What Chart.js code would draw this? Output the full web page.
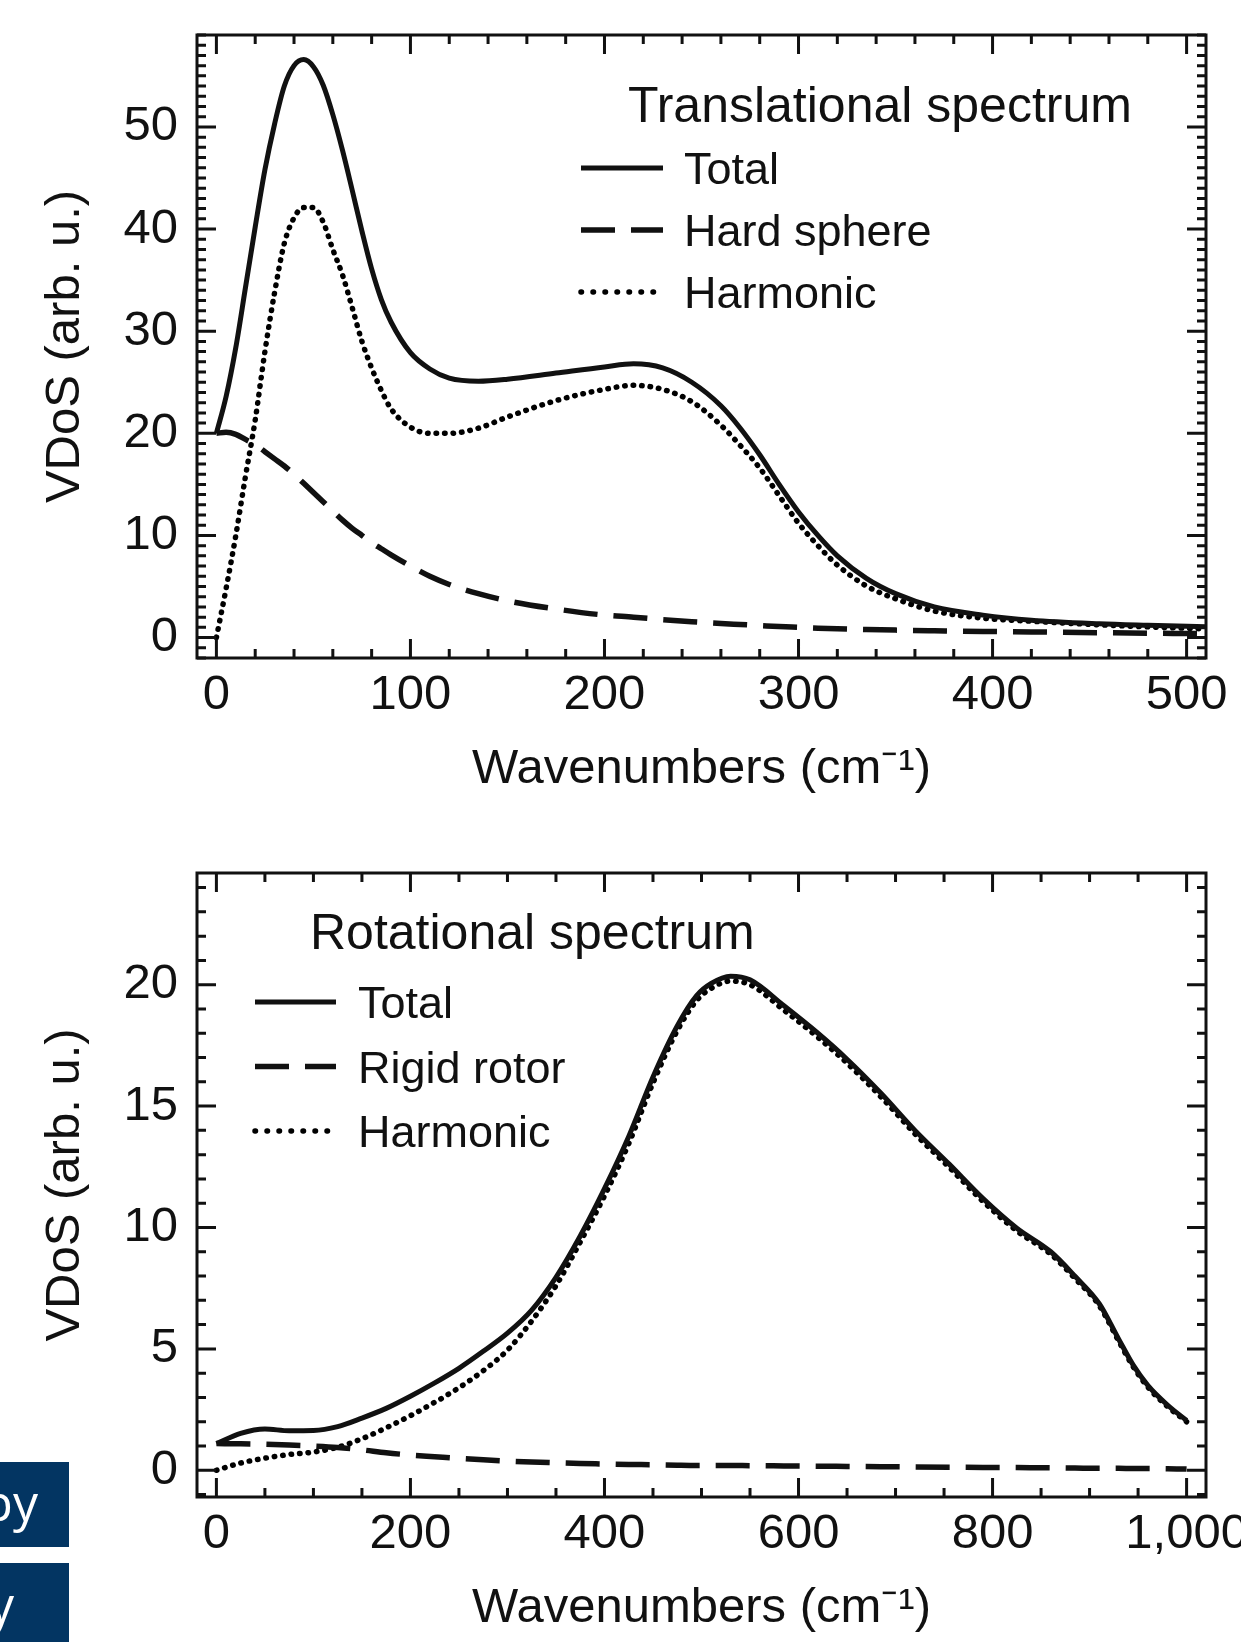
<!DOCTYPE html>
<html>
<head>
<meta charset="utf-8">
<title>VDoS spectra</title>
<script src="https://cdn.jsdelivr.net/npm/chart.js@4.4.0/dist/chart.umd.min.js"></script>
<style>
  html, body { margin: 0; padding: 0; background: #fff; }
  body { position: relative; width: 1241px; height: 1642px; overflow: hidden; }
  canvas { position: absolute; left: 0; }
  #transChart { top: 0; }
  #rotChart { top: 820px; }
  .tab { position: absolute; left: 0; width: 69px; background: #033562; overflow: hidden; }
  .tab span { position: absolute; color: #fff; font: 50px/50px 'Open Sans', sans-serif; white-space: nowrap; }
</style>
</head>
<body>
<canvas id="transChart" width="1241" height="820"></canvas>
<canvas id="rotChart" width="1241" height="822"></canvas>
<div class="tab" style="top:1462px;height:85px"><span style="right:31px;top:15px">py</span></div>
<div class="tab" style="top:1563px;height:79px"><span style="right:55px;top:16px">y</span></div>
<script>
// Translational spectrum (top panel)
const transWavenumber = [0, 5, 10, 15, 20, 25, 30, 35, 40, 45, 50, 55, 60, 65, 70, 75, 80, 85, 90, 100,
  110, 120, 135, 150, 175, 200, 215, 230, 245, 260, 270, 280, 290, 300, 310, 320, 335, 350, 370, 395,
  420, 455, 480, 510];
const transTotal = [20.0, 23.6, 28.4, 34.3, 40.2, 45.8, 50.3, 54.0, 56.0, 56.6, 55.9, 54.1, 51.2, 47.7, 43.8, 39.8, 36.1, 33.1, 30.9, 27.9,
  26.3, 25.4, 25.1, 25.3, 25.9, 26.5, 26.8, 26.4, 25.0, 22.7, 20.5, 17.9, 15.0, 12.3, 10.0, 8.0, 5.8, 4.3, 3.0, 2.2,
  1.7, 1.35, 1.2, 1.05];
const transHardSphere = [20.0, 20.1, 19.9, 19.4, 18.9, 18.2, 17.5, 16.8, 16.0, 15.1, 14.2, 13.3, 12.4, 11.5, 10.7, 10.0, 9.3, 8.7, 8.1, 7.0,
  6.0, 5.2, 4.3, 3.6, 2.8, 2.2, 2.0, 1.75, 1.55, 1.38, 1.28, 1.18, 1.08, 1.0, 0.92, 0.86, 0.79, 0.73, 0.67, 0.6,
  0.55, 0.48, 0.43, 0.38];
const transHarmonic = [0, 4.8, 10.0, 15.8, 21.3, 28.0, 33.8, 38.6, 41.1, 42.1, 42.1, 40.7, 38.0, 35.5, 32.3, 29.0, 26.4, 24.2, 22.4, 20.6,
  20.0, 20.0, 20.5, 21.6, 23.2, 24.3, 24.7, 24.3, 23.1, 20.8, 18.8, 16.6, 13.9, 11.2, 9.0, 7.1, 5.05, 3.8, 2.6, 1.9,
  1.6, 1.25, 1.05, 0.85];
const transTicksX = [0, 100, 200, 300, 400, 500];
const transTicksY = [0, 10, 20, 30, 40, 50];

// Rotational spectrum (bottom panel)
const rotWavenumber = [0, 25, 50, 75, 100, 125, 150, 175, 200, 225, 250, 275, 300, 325, 350, 375, 400, 425, 450, 475,
  495, 510, 530, 550, 585, 620, 650, 685, 720, 755, 790, 825, 860, 885, 910, 930, 945, 960, 980, 1000];
const rotTotal = [1.1, 1.52, 1.7, 1.63, 1.64, 1.8, 2.15, 2.55, 3.05, 3.6, 4.2, 4.9, 5.65, 6.6, 7.95, 9.65, 11.6, 13.75, 16.2, 18.3,
  19.55, 20.05, 20.35, 20.2, 19.13, 18.0, 16.93, 15.53, 14.0, 12.62, 11.2, 9.97, 9.0, 7.99, 6.86, 5.4, 4.33, 3.5, 2.7, 2.05];
const rotRigidRotor = [1.1, 1.09, 1.07, 1.04, 1.0, 0.94, 0.84, 0.72, 0.63, 0.56, 0.49, 0.43, 0.38, 0.34, 0.31, 0.28, 0.26, 0.24, 0.23, 0.21,
  0.2, 0.2, 0.2, 0.19, 0.18, 0.17, 0.16, 0.15, 0.14, 0.13, 0.12, 0.11, 0.1, 0.09, 0.08, 0.08, 0.07, 0.07, 0.06, 0.05];
const rotHarmonic = [0, 0.3, 0.5, 0.65, 0.75, 0.95, 1.3, 1.75, 2.25, 2.8, 3.4, 4.1, 4.95, 6.15, 7.6, 9.4, 11.3, 13.45, 15.95, 18.1,
  19.35, 19.85, 20.15, 20.0, 18.95, 17.83, 16.77, 15.38, 13.86, 12.49, 11.08, 9.86, 8.9, 7.9, 6.78, 5.32, 4.26, 3.43, 2.64, 2.0];
const rotTicksX = [0, 200, 400, 600, 800, 1000];
const rotTicksY = [0, 5, 10, 15, 20];

const fontFamily = "'Liberation Sans', Arial, Helvetica, sans-serif";
Chart.defaults.font.family = fontFamily;
Chart.defaults.color = '#111';

function pts(xs, ys) {
  return xs.map((x, i) => ({ x: x, y: ys[i] }));
}

function lineSets(xs, total, second, secondLabel, harmonic) {
  return [
    { label: 'Total', data: pts(xs, total), borderColor: '#111', borderWidth: 5,
      pointRadius: 0, cubicInterpolationMode: 'monotone' },
    { label: secondLabel, data: pts(xs, second), borderColor: '#111', borderWidth: 5.5,
      borderDash: [34, 16], pointRadius: 0, cubicInterpolationMode: 'monotone' },
    { label: 'Harmonic', data: pts(xs, harmonic), borderColor: '#000', borderWidth: 5.5,
      borderDash: [0.5, 8], borderCapStyle: 'round', legendDash: [0.5, 11.5],
      pointRadius: 0, cubicInterpolationMode: 'monotone' }
  ];
}

// frame round the plot with inward ticks on all four sides
function frameTicks(xMinor, yMinor) {
  return {
    id: 'frameTicks',
    afterDatasetsDraw(chart) {
      const { ctx, chartArea: a, scales: { x, y } } = chart;
      const majorX = x.ticks.map(t => t.value);
      const majorY = y.ticks.map(t => t.value);
      ctx.save();
      ctx.strokeStyle = '#111';
      ctx.lineWidth = 3;
      ctx.beginPath();
      for (let i = Math.ceil(x.min / xMinor); i * xMinor <= x.max; i++) {
        const v = i * xMinor;
        const len = majorX.some(m => Math.abs(m - v) < 1e-6) ? 19 : 9;
        const px = x.getPixelForValue(v);
        ctx.moveTo(px, a.bottom); ctx.lineTo(px, a.bottom - len);
        ctx.moveTo(px, a.top); ctx.lineTo(px, a.top + len);
      }
      for (let i = Math.ceil(y.min / yMinor); i * yMinor <= y.max; i++) {
        const v = i * yMinor;
        const len = majorY.some(m => Math.abs(m - v) < 1e-6) ? 19 : 9;
        const py = y.getPixelForValue(v);
        ctx.moveTo(a.left, py); ctx.lineTo(a.left + len, py);
        ctx.moveTo(a.right, py); ctx.lineTo(a.right - len, py);
      }
      ctx.stroke();
      ctx.strokeRect(a.left, a.top, a.right - a.left, a.bottom - a.top);
      ctx.restore();
    }
  };
}

// title + legend block inside the plot
function spectrumLegend(cfg) {
  return {
    id: 'spectrumLegend',
    afterDraw(chart) {
      const { ctx, chartArea: a } = chart;
      ctx.save();
      ctx.fillStyle = '#111';
      ctx.textBaseline = 'alphabetic';
      ctx.font = '50px ' + fontFamily;
      ctx.fillText(cfg.title, a.left + cfg.titleX, a.top + cfg.titleY);
      ctx.font = '45px ' + fontFamily;
      chart.data.datasets.forEach((ds, i) => {
        const yMid = a.top + cfg.rowY + i * cfg.rowGap;
        ctx.beginPath();
        ctx.setLineDash(ds.legendDash || ds.borderDash || []);
        ctx.lineCap = ds.borderCapStyle || 'butt';
        ctx.lineWidth = ds.borderWidth;
        ctx.strokeStyle = ds.borderColor;
        ctx.moveTo(a.left + cfg.lineStart, yMid);
        ctx.lineTo(a.left + cfg.lineEnd, yMid);
        ctx.stroke();
        ctx.setLineDash([]);
        ctx.fillText(ds.label, a.left + cfg.textX, yMid + 16);
      });
      ctx.restore();
    }
  };
}

function spectrumOptions(c) {
  return {
    responsive: false,
    animation: false,
    devicePixelRatio: 1,
    layout: { padding: { top: c.padTop, right: 35, left: 0, bottom: 0 } },
    plugins: { legend: { display: false }, tooltip: { enabled: false } },
    scales: {
      x: {
        type: 'linear', min: c.xMin, max: c.xMax,
        grid: { display: false, drawTicks: false },
        border: { display: false },
        afterBuildTicks: s => { s.ticks = c.xTicks.map(v => ({ value: v })); },
        ticks: {
          autoSkip: false, maxRotation: 0, padding: 8, font: { size: 49 },
          callback: v => v.toLocaleString('en-US')
        },
        title: { display: true, text: 'Wavenumbers (cm\u207B\u00B9)', font: { size: 49 },
          padding: { top: 0, bottom: c.xTitlePad } },
        afterFit: s => { s.height = c.xAxisHeight; s.paddingLeft = 0; s.paddingRight = 0; }
      },
      y: {
        type: 'linear', min: c.yMin, max: c.yMax,
        grid: { display: false, drawTicks: false },
        border: { display: false },
        afterBuildTicks: s => { s.ticks = c.yTicks.map(v => ({ value: v })); },
        ticks: { autoSkip: false, padding: 19, font: { size: 49 } },
        title: { display: true, text: 'VDoS (arb. u.)', font: { size: 49 }, padding: { top: 36, bottom: 0 } },
        afterFit: s => { s.width = 197; s.paddingTop = 0; s.paddingBottom = 0; }
      }
    }
  };
}

new Chart(document.getElementById('transChart'), {
  type: 'line',
  data: { datasets: lineSets(transWavenumber, transTotal, transHardSphere, 'Hard sphere', transHarmonic) },
  options: spectrumOptions({ padTop: 35, xMin: -10, xMax: 510, xTicks: transTicksX, yMin: -2, yMax: 59, yTicks: transTicksY,
    xAxisHeight: 162, xTitlePad: 21 }),
  plugins: [
    frameTicks(20, 1),
    spectrumLegend({ title: 'Translational spectrum', titleX: 431, titleY: 87,
      rowY: 133, rowGap: 62, lineStart: 384, lineEnd: 466, textX: 487 })
  ]
});

new Chart(document.getElementById('rotChart'), {
  type: 'line',
  data: { datasets: lineSets(rotWavenumber, rotTotal, rotRigidRotor, 'Rigid rotor', rotHarmonic) },
  options: spectrumOptions({ padTop: 53, xMin: -20, xMax: 1020, xTicks: rotTicksX, yMin: -1.1, yMax: 24.6, yTicks: rotTicksY,
    xAxisHeight: 145, xTitlePad: 4 }),
  plugins: [
    frameTicks(50, 1),
    spectrumLegend({ title: 'Rotational spectrum', titleX: 113, titleY: 76,
      rowY: 129, rowGap: 64.5, lineStart: 58, lineEnd: 139, textX: 161 })
  ]
});
</script>
</body>
</html>
